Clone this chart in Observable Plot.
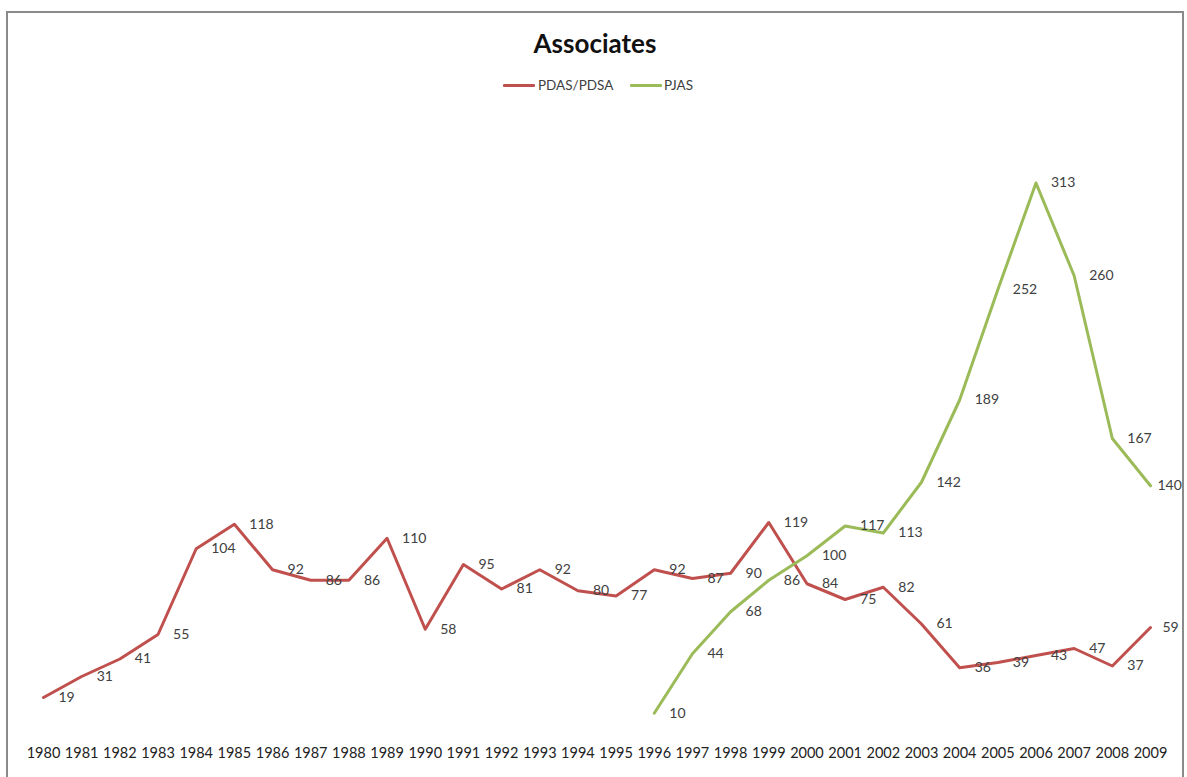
<!DOCTYPE html>
<html>
<head>
<meta charset="utf-8">
<script src="https://cdn.jsdelivr.net/npm/d3@7"></script>
<script src="https://cdn.jsdelivr.net/npm/@observablehq/plot@0.6"></script>
<style>
  html, body { margin: 0; padding: 0; background: #fff; }
  body { width: 1187px; height: 777px; position: relative; overflow: hidden; font-family: Lato, "Open Sans", sans-serif; }
  #frame { position: absolute; left: 6px; top: 11px; width: 1178px; height: 800px; border: 2px solid #8a8a8a; box-sizing: border-box; pointer-events: none; }
  #title { position: absolute; left: 0; width: 1190px; top: 26px; text-align: center; font-weight: bold; font-size: 26px; color: #111; line-height: 34px; }
  .leg { position: absolute; top: 77px; height: 16px; line-height: 16px; font-size: 13.5px; color: #404040; }
  .sw { position: absolute; height: 3px; border-radius: 1px; }
  #chart { position: absolute; left: 0; top: 100px; }
</style>
</head>
<body>
<div id="title">Associates</div>
<div class="sw" style="left:503px;width:32px;top:84px;background:#c0504d"></div>
<div class="leg" style="left:538px">PDAS/PDSA</div>
<div class="sw" style="left:630px;width:32px;top:84px;background:#9bbb59"></div>
<div class="leg" style="left:664px">PJAS</div>
<div id="chart"></div>
<div id="frame"></div>
<script>
const years = [1980,1981,1982,1983,1984,1985,1986,1987,1988,1989,1990,1991,1992,1993,1994,1995,1996,1997,1998,1999,2000,2001,2002,2003,2004,2005,2006,2007,2008,2009];
const pdasValues = [19,31,41,55,104,118,92,86,86,110,58,95,81,92,80,77,92,87,90,119,84,75,82,61,36,39,43,47,37,59];
const pjasYears = [1996,1997,1998,1999,2000,2001,2002,2003,2004,2005,2006,2007,2008,2009];
const pjasValues = [10,44,68,86,100,117,113,142,189,252,313,260,167,140];
const seriesNames = ["PDAS/PDSA", "PJAS"];
const seriesColors = ["#c0504d", "#9bbb59"];

const pdas = years.map((y, i) => ({year: y, value: pdasValues[i], series: seriesNames[0]}));
const pjas = pjasYears.map((y, i) => ({year: y, value: pjasValues[i], series: seriesNames[1]}));
const lastYear = years[years.length - 1];
const labelStyle = {x: "year", y: "value", text: d => String(d.value), textAnchor: "start", fontSize: 14, fill: "#404040"};

const chart = Plot.plot({
  width: 1187,
  height: 677,
  marginLeft: 43,
  marginRight: 37,
  marginTop: 35.25,
  marginBottom: 46.75,
  style: {background: "transparent", fontFamily: "Lato, 'Open Sans', sans-serif"},
  x: {domain: [1980, 2009]},
  y: {domain: [0, 340], axis: null},
  color: {domain: seriesNames, range: seriesColors},
  marks: [
    Plot.axisX(years, {tickSize: 0, tickPadding: 17, tickFormat: d => String(d), fontSize: 14.5, fill: "#222", label: null}),
    Plot.line(pdas, {x: "year", y: "value", stroke: "series", strokeWidth: 3, strokeLinejoin: "round"}),
    Plot.line(pjas, {x: "year", y: "value", stroke: "series", strokeWidth: 3, strokeLinejoin: "round"}),
    Plot.text(pdas.filter(d => d.year !== lastYear), {...labelStyle, dx: 15}),
    Plot.text(pdas.filter(d => d.year === lastYear), {...labelStyle, dx: 12}),
    Plot.text(pjas.filter(d => d.year !== lastYear), {...labelStyle, dx: 15}),
    Plot.text(pjas.filter(d => d.year === lastYear), {...labelStyle, dx: 7})
  ]
});
document.getElementById("chart").appendChild(chart);
</script>
</body>
</html>
